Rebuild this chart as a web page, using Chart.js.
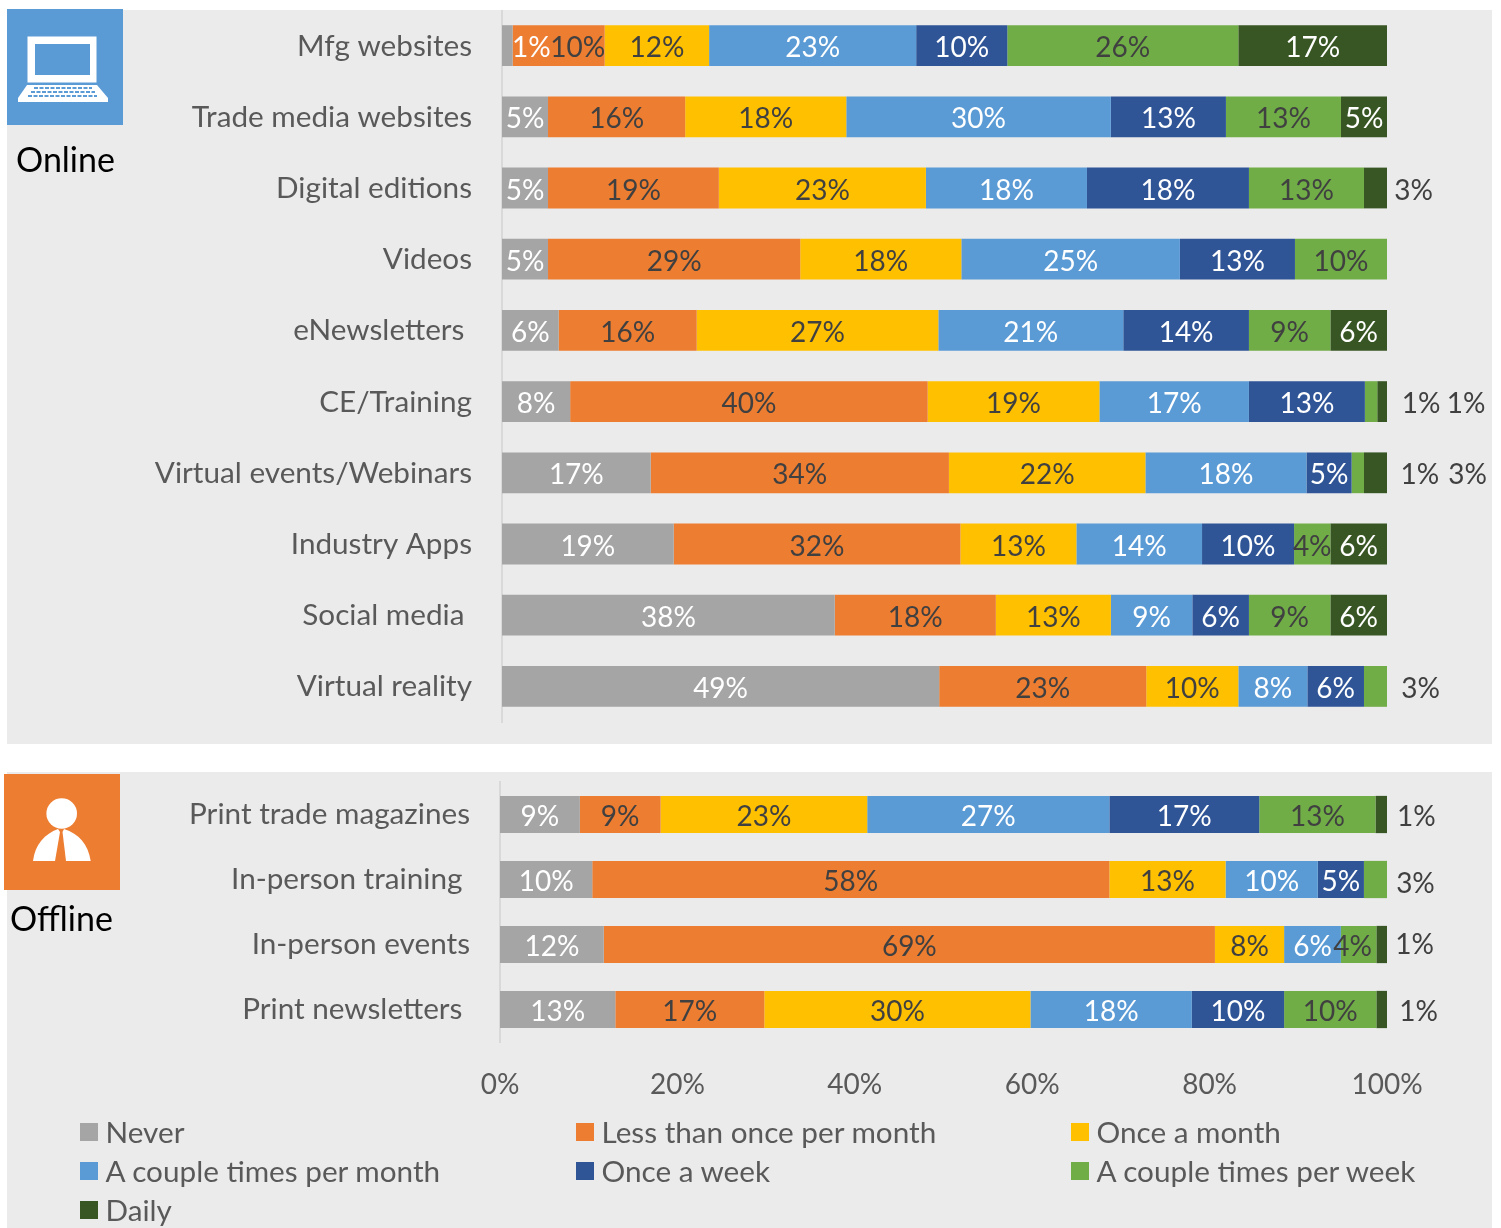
<!DOCTYPE html>
<html>
<head>
<meta charset="utf-8">
<title>Media usage frequency</title>
<script src="https://cdn.jsdelivr.net/npm/chart.js@4"></script>
<style>
  html, body { margin:0; padding:0; background:#fff; }
  #page { position:relative; width:1501px; height:1228px; overflow:hidden; font-family:Lato, sans-serif; }
  .panel { position:absolute; left:7px; width:1485px; background:#ebebeb; }
  #panelOnline { top:10px; height:734px; }
  #panelOffline { top:772px; height:456px; }
  .panel canvas { position:absolute; left:0; top:0; }
  .icon { position:absolute; width:116px; height:116px; }
  .group { position:absolute; font-size:34px; line-height:40px; color:#000; }
  #legend { position:absolute; left:80px; top:1112px; display:grid; grid-template-columns:496px 495px auto; grid-auto-rows:39px; font-size:29.7px; color:#595959; }
  #legend div { display:flex; align-items:center; white-space:nowrap; }
  #legend i { display:block; width:18px; height:18px; margin-right:7.5px; }
</style>
</head>
<body>
<div id="page">
  <div class="panel" id="panelOnline"><canvas id="onlineChart" width="1485" height="734"></canvas></div>
  <div class="panel" id="panelOffline"><canvas id="offlineChart" width="1485" height="456"></canvas></div>

  <svg class="icon" style="left:7px;top:9px" viewBox="0 0 116 116">
    <rect width="116" height="116" fill="#5b9bd5"/>
    <rect x="20.5" y="27.5" width="69" height="46" fill="#fff"/>
    <rect x="28" y="35" width="55" height="31" fill="#5b9bd5"/>
    <path d="M20 76H90L101 89V93H11V89Z" fill="#fff"/>
    <path d="M27 79H85M24 83H88M21 87H90" stroke="#5b9bd5" stroke-width="2" stroke-dasharray="4 1.5" fill="none"/>
  </svg>
  <div class="group" style="left:16px;top:139px">Online</div>

  <svg class="icon" style="left:4px;top:774px" viewBox="0 0 116 116">
    <rect width="116" height="116" fill="#ed7d31"/>
    <circle cx="57.7" cy="39.5" r="15.3" fill="#fff"/>
    <path d="M29 87C31 70 41 60 54 55L56 58L51 87Z" fill="#fff"/>
    <path d="M86.7 87C84 70 75 60 60 55L58.5 58L62 87Z" fill="#fff"/>
  </svg>
  <div class="group" style="left:10px;top:898px">Offline</div>

  <div id="legend"></div>
</div>

<script>
const seriesNames = ['Never', 'Less than once per month', 'Once a month', 'A couple times per month', 'Once a week', 'A couple times per week', 'Daily'];
const seriesColors = ['#a5a5a5', '#ed7d31', '#ffc000', '#5b9bd5', '#2f5597', '#70ad47', '#375623'];
const labelColors = ['#fff', '#404040', '#404040', '#fff', '#fff', '#404040', '#fff'];
const tickLabels = ['0%', '20%', '40%', '60%', '80%', '100%'];

// trailing spaces keep the shorter rows slightly off the right edge
const onlineCategories = ['Mfg websites', 'Trade media websites', 'Digital editions', 'Videos', 'eNewsletters ', 'CE/Training', 'Virtual events/Webinars', 'Industry Apps', 'Social media ', 'Virtual reality'];
const onlineNever       = [1.2, 5.2, 5.2, 5.2, 6.4, 7.7, 16.8, 19.4, 37.6, 49.4];
const onlineRarely      = [10.4, 15.5, 19.3, 28.5, 15.6, 40.4, 33.7, 32.4, 18.2, 23.4];
const onlineMonthly     = [11.8, 18.2, 23.4, 18.2, 27.3, 19.4, 22.2, 13.1, 13.0, 10.4];
const onlineFewMonthly  = [23.4, 29.9, 18.2, 24.7, 20.9, 16.9, 18.2, 14.2, 9.2, 7.8];
const onlineWeekly      = [10.3, 13.0, 18.3, 13.0, 14.2, 13.1, 5.1, 10.4, 6.4, 6.4];
const onlineFewWeekly   = [26.1, 13.0, 13.0, 10.4, 9.2, 1.4, 1.4, 4.1, 9.2, 2.6];
const onlineDaily       = [16.8, 5.2, 2.6, null, 6.4, 1.3, 2.6, 6.4, 6.4, null];

const offlineCategories = ['Print trade magazines', 'In-person training ', 'In-person events', 'Print newsletters '];
const offlineNever      = [9.0, 10.4, 11.7, 13.0];
const offlineRarely     = [9.1, 58.3, 68.9, 16.8];
const offlineMonthly    = [23.3, 13.1, 7.8, 30.0];
const offlineFewMonthly = [27.3, 10.4, 6.4, 18.2];
const offlineWeekly     = [16.9, 5.2, null, 10.4];
const offlineFewWeekly  = [13.1, 2.6, 4.0, 10.4];
const offlineDaily      = [1.3, null, 1.2, 1.2];

// labels that don't sit in the middle of their segment: "row,series": [dx, dy]
const onlineShifts = {
  '0,0': [24, 0], '0,1': [19, 0], '2,6': [38, 0], '5,5': [50, 0], '5,6': [83, 0],
  '6,5': [62, 0], '6,6': [92, 0], '9,5': [45, 0]
};
const offlineShifts = {
  '0,6': [35, 0], '1,5': [40, 2], '2,5': [-6, 0], '2,6': [33, -2], '3,6': [37, 0]
};

function buildDatasets(series){
  return series.map((values, i) => ({
    label: seriesNames[i],
    data: values,
    backgroundColor: seriesColors[i],
    borderWidth: 0,
    categoryPercentage: 1,
    barPercentage: 0.573
  }));
}

// percentage text on (or next to) every segment
const segmentLabels = {
  id: 'segmentLabels',
  afterDatasetsDraw(chart, args, opts){
    const ctx = chart.ctx;
    ctx.save();
    ctx.font = '28px Lato, sans-serif';
    ctx.textAlign = 'center';
    ctx.textBaseline = 'middle';
    chart.data.datasets.forEach((ds, s) => {
      chart.getDatasetMeta(s).data.forEach((bar, row) => {
        if(ds.data[row] === null) return;
        const shift = opts.shifts[row + ',' + s] || [0, 0];
        const x = (bar.x + bar.base) / 2 + shift[0];
        ctx.fillStyle = x > chart.chartArea.right ? '#404040' : labelColors[s];
        ctx.fillText(Math.round(ds.data[row]) + '%', x, bar.y + 2.5 + shift[1]);
      });
    });
    ctx.restore();
  }
};

// tick padding would otherwise be added above and below the plot as well
function dropScalePadding(scale){
  scale.paddingTop = 0;
  scale.paddingBottom = 0;
  scale.paddingLeft = 0;
  scale.paddingRight = 0;
}

function createChart(id, categories, series, shifts, box){
  return new Chart(document.getElementById(id), {
    type: 'bar',
    data: { labels: categories, datasets: buildDatasets(series) },
    plugins: [segmentLabels],
    options: {
      indexAxis: 'y',
      responsive: false,
      animation: false,
      layout: { padding: { left: 0, top: box.top, right: 105, bottom: box.bottom } },
      plugins: {
        legend: { display: false },
        segmentLabels: { shifts: shifts }
      },
      scales: {
        x: {
          stacked: true,
          min: 0,
          max: 100,
          display: box.showTicks,
          grid: { display: false, drawTicks: false },
          border: { display: false },
          afterFit: scale => {
            dropScalePadding(scale);
            if(box.axisHeight) scale.height = box.axisHeight;
          },
          ticks: {
            stepSize: 20,
            padding: 26,
            color: '#595959',
            font: { family: 'Lato', size: 28 },
            maxRotation: 0,
            callback: (v, i) => tickLabels[i]
          }
        },
        y: {
          stacked: true,
          afterFit: scale => {
            dropScalePadding(scale);
            scale.width = box.axisX;
          },
          grid: { display: false, drawTicks: false },
          border: { color: '#d9d9d9', width: 2 },
          ticks: {
            autoSkip: false,
            padding: 30,
            labelOffset: box.labelOffset,
            color: '#595959',
            font: { family: 'Lato', size: 29.7 }
          }
        }
      }
    }
  });
}

createChart('onlineChart', onlineCategories,
  [onlineNever, onlineRarely, onlineMonthly, onlineFewMonthly, onlineWeekly, onlineFewWeekly, onlineDaily],
  onlineShifts, { axisX: 495, top: 0, bottom: 22, showTicks: false, labelOffset: 0.5 });

createChart('offlineChart', offlineCategories,
  [offlineNever, offlineRarely, offlineMonthly, offlineFewMonthly, offlineWeekly, offlineFewWeekly, offlineDaily],
  offlineShifts, { axisX: 493, top: 10, bottom: 0, showTicks: true, axisHeight: 186, labelOffset: 0 });

// shared legend under both charts
const legend = document.getElementById('legend');
seriesNames.forEach((name, i) => {
  const item = document.createElement('div');
  const swatch = document.createElement('i');
  swatch.style.background = seriesColors[i];
  item.appendChild(swatch);
  item.appendChild(document.createTextNode(name));
  legend.appendChild(item);
});
</script>
</body>
</html>
